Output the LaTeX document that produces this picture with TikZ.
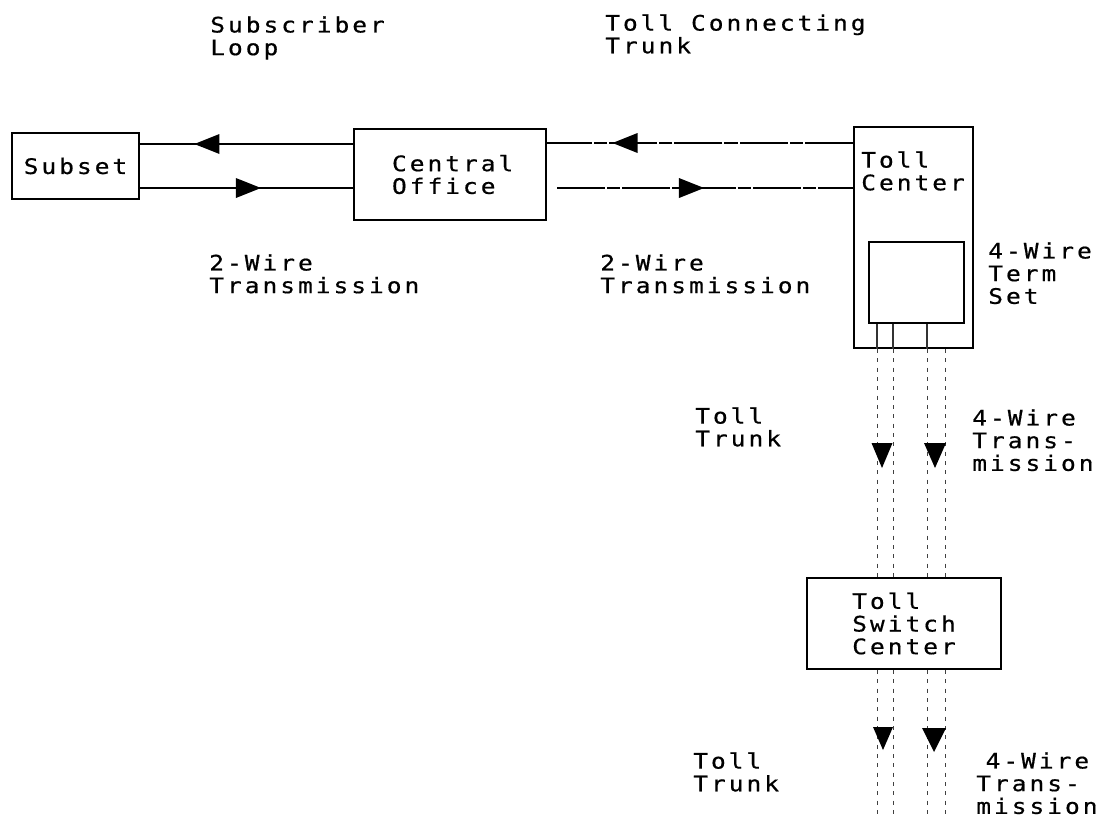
\documentclass[tikz,border=0pt]{standalone}
\usepackage{fontspec}
\newfontfamily\plotfont[LetterSpace=14,FakeStretch=1.15,FakeBold=0.6]{DejaVu Sans Mono}
\usetikzlibrary{decorations.markings}
\begin{document}
\begin{tikzpicture}[x=0.75pt,y=-0.75pt,
  txt/.style={font=\plotfont\fontsize{16pt}{17pt}\selectfont},
  lbl/.style={txt, inner sep=0pt, anchor=north west, align=left},
  box/.style={draw, line width=1.6pt, inner sep=0pt, txt, align=left},
  wire/.style={line width=1.5pt},
  trunkwire/.style={line width=1.5pt, dash pattern=on 36pt off 1.5pt on 10pt off 1.5pt},
  stub/.style={line width=1.1pt, black!80},
  vwire/.style={line width=0.7pt, black!75, dash pattern=on 3pt off 4pt},
  midarrow/.style={postaction={decorate}, decoration={markings, mark=at position #1 with {\fill (9.4pt,0) -- (-9.4pt,7.5pt) -- (-9.4pt,-7.5pt) -- cycle;}}},
  tri/.style={fill=black},
]
\useasboundingbox (0,0) rectangle (1103,819);

% boxes
\node[box, minimum width=95.25pt, minimum height=49.5pt] (subset) at (75.5,166) {Subset};
\node[box, minimum width=144pt, minimum height=68.25pt] (co) at (450,174.5) {\hspace*{4pt}Central\\\hspace*{4pt}Office};
\node[box, minimum width=89.25pt, minimum height=165.75pt] (tc) at (913.5,237.5) {};
\node[box, minimum width=71.25pt, minimum height=60.75pt] (ts) at (916.5,282.5) {};
\node[box, minimum width=145.5pt, minimum height=68.25pt] (sw) at (904,623.5) {Toll\\Switch\\Center};

% labels
\node[lbl] (subloop) at (210,16) {Subscriber\\Loop};
\node[lbl] (tctrunk) at (605,14) {Toll Connecting\\Trunk};
\node[lbl] (tw1) at (209,254) {2-Wire\\Transmission};
\node[lbl] (tw2) at (600,254) {2-Wire\\Transmission};
\node[lbl] (tcl) at (861,151) {Toll\\Center};
\node[lbl] (tsl) at (988,242) {4-Wire\\Term\\Set};
\node[lbl] (tt1) at (695,407) {Toll\\Trunk};
\node[lbl] (fw1) at (972,409) {4-Wire\\Trans-\\mission};
\node[lbl] (tt2) at (693,752) {Toll\\Trunk};
\node[lbl] (fw2) at (976,752) {\hspace*{7pt}4-Wire\\Trans-\\mission};

% horizontal connectors
\coordinate (ya) at (0,144);
\coordinate (yb) at (0,188);
\coordinate (yc) at (0,143);
\coordinate (cogap) at (557,188);
\draw[wire, midarrow=0.686] (co.west |- ya) -- (subset.east |- ya);
\draw[wire, midarrow=0.509] (subset.east |- yb) -- (co.west |- yb);
\draw[trunkwire, midarrow=0.745] (tc.west |- yc) -- (co.east |- yc);
\draw[trunkwire, midarrow=0.4545] (cogap) -- (tc.west |- cogap);

% vertical trunks
\coordinate (v1) at (877,0);
\coordinate (v2) at (893,0);
\coordinate (v3) at (927,0);
\coordinate (v4) at (945,0);
\coordinate (bot) at (0,819);
\foreach \v in {v1,v2,v3} \draw[stub] (ts.south -| \v) -- (tc.south -| \v);
\foreach \v in {v1,v2,v3,v4} {
  \draw[vwire] (tc.south -| \v) -- (sw.north -| \v);
  \draw[vwire] (sw.south -| \v) -- (bot -| \v);
}

% down arrows
\fill[tri] (882,468) -- ++(-10.5,-25) -- ++(21,0) -- cycle;
\fill[tri] (935,468) -- ++(-11,-25) -- ++(22,0) -- cycle;
\fill[tri] (883,750) -- ++(-10,-23) -- ++(20,0) -- cycle;
\fill[tri] (934,752) -- ++(-12,-24) -- ++(24,0) -- cycle;
\end{tikzpicture}
\end{document}
